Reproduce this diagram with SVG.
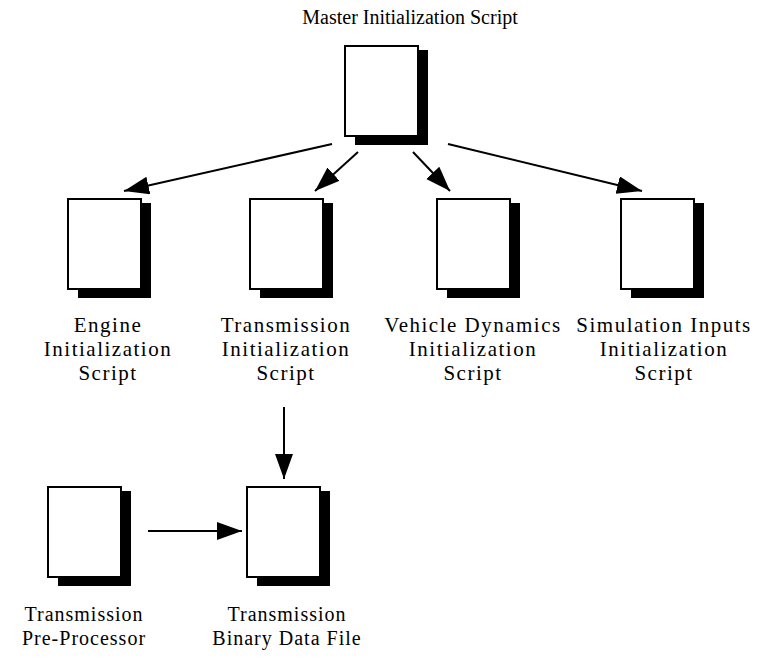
<svg xmlns="http://www.w3.org/2000/svg" xmlns:xlink="http://www.w3.org/1999/xlink" width="777" height="660" viewBox="0 0 777 660">
  <style>
    .lbl { font-family: "Liberation Serif", "Times New Roman", serif; font-size: 20px; fill: #000; text-anchor: middle; }
    .mid { font-size: 21px; letter-spacing: 1.5px; }
    .low { letter-spacing: 1px; }
    .doc { fill: #fff; stroke: #000; stroke-width: 2; }
    .shadow { fill: #000; }
    .conn { stroke: #000; stroke-width: 2; fill: none; marker-end: url(#head); }
  </style>
  <defs>
    <marker id="head" markerUnits="userSpaceOnUse" markerWidth="28" markerHeight="20" refX="25" refY="9" orient="auto">
      <path d="M0,0 L25,9 L0,18 z" fill="#000"/>
    </marker>
    <!-- document icon: page with drop shadow -->
    <g id="docIcon">
      <rect class="shadow" x="10" y="4" width="73" height="95"/>
      <rect class="doc" x="0" y="0" width="73" height="90"/>
    </g>
  </defs>
  <rect width="777" height="660" fill="#fff"/>

  <g id="connectors">
    <line class="conn" x1="332" y1="144" x2="124" y2="191"/>
    <line class="conn" x1="358" y1="152" x2="315" y2="191"/>
    <line class="conn" x1="413" y1="152" x2="450" y2="191"/>
    <line class="conn" x1="448" y1="144" x2="642" y2="191"/>
    <line class="conn" x1="284" y1="407" x2="284" y2="479"/>
    <line class="conn" x1="148" y1="531" x2="242" y2="531"/>
  </g>

  <g id="master">
    <text class="lbl" x="410" y="24">Master Initialization Script</text>
    <use xlink:href="#docIcon" x="345" y="46"/>
  </g>

  <g id="engine">
    <use xlink:href="#docIcon" x="68" y="199"/>
    <text class="lbl mid" x="108" y="332">Engine</text>
    <text class="lbl mid" x="108" y="356">Initialization</text>
    <text class="lbl mid" x="108" y="380">Script</text>
  </g>

  <g id="transmission">
    <use xlink:href="#docIcon" x="250" y="199"/>
    <text class="lbl mid" x="286" y="332">Transmission</text>
    <text class="lbl mid" x="286" y="356">Initialization</text>
    <text class="lbl mid" x="286" y="380">Script</text>
  </g>

  <g id="vehicle">
    <use xlink:href="#docIcon" x="437" y="199"/>
    <text class="lbl mid" x="473" y="332">Vehicle Dynamics</text>
    <text class="lbl mid" x="473" y="356">Initialization</text>
    <text class="lbl mid" x="473" y="380">Script</text>
  </g>

  <g id="simulation">
    <use xlink:href="#docIcon" x="621" y="199"/>
    <text class="lbl mid" x="664" y="332">Simulation Inputs</text>
    <text class="lbl mid" x="664" y="356">Initialization</text>
    <text class="lbl mid" x="664" y="380">Script</text>
  </g>

  <g id="preprocessor">
    <use xlink:href="#docIcon" x="48" y="487"/>
    <text class="lbl low" x="84" y="621">Transmission</text>
    <text class="lbl low" x="84" y="645">Pre-Processor</text>
  </g>

  <g id="binary">
    <use xlink:href="#docIcon" x="247" y="487"/>
    <text class="lbl low" x="287" y="621">Transmission</text>
    <text class="lbl low" x="287" y="645">Binary Data File</text>
  </g>
</svg>
